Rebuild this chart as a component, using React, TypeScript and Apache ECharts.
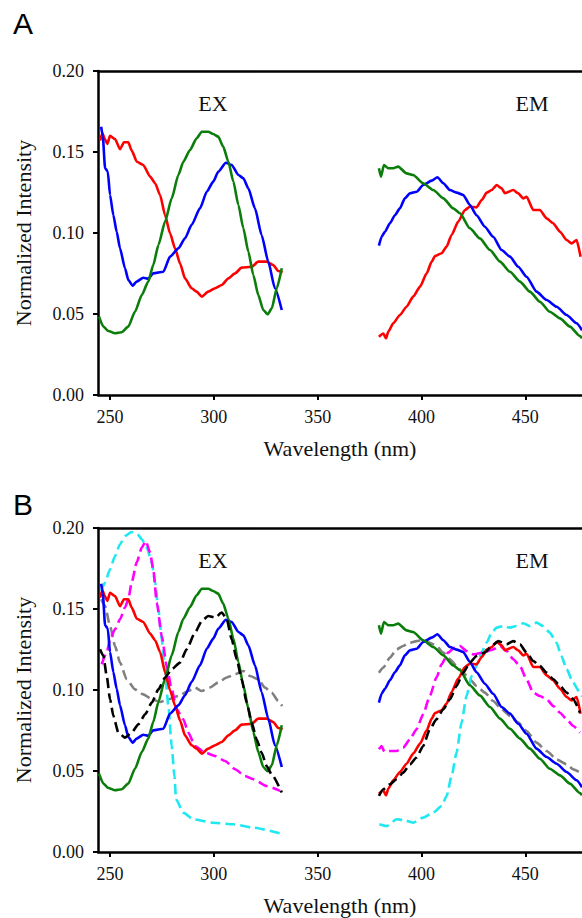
import React, { useEffect, useRef } from "react";
import * as echarts from "echarts";

const xTicks = [250, 300, 350, 400, 450];
const panelLetters = ["A", "B"];
const regionLabels = ["EX", "EM"];

const redEx = [[245.2,0.157],[246.3,0.1615],[247.5,0.158],[248.7,0.155],[250,0.16],[252.4,0.158],[254.8,0.1517],[256.7,0.156],[258.8,0.156],[260.4,0.151],[262.9,0.144],[266,0.142],[269.3,0.1348],[271.7,0.1307],[274.1,0.1235],[276.5,0.111],[278.9,0.0998],[281.3,0.0905],[283.7,0.0813],[286.1,0.072],[289.3,0.0659],[291.7,0.0638],[294.2,0.0607],[297.3,0.0638],[300.6,0.0659],[303.8,0.0679],[307,0.072],[310.2,0.0751],[313.4,0.0786],[318.2,0.0792],[321.4,0.0823],[325.4,0.0823],[328.6,0.0802],[331,0.0765],[333.1,0.0757]];
const blueEx = [[245.7,0.1656],[246.5,0.16],[247.6,0.14],[248.9,0.138],[250,0.1235],[251.6,0.111],[253.2,0.1008],[254.8,0.0905],[257.2,0.0782],[258.8,0.071],[260.9,0.0675],[262.8,0.07],[266,0.0724],[268.4,0.0718],[270.8,0.0751],[275.7,0.0761],[278.9,0.0854],[282.9,0.0905],[286.1,0.0967],[289.3,0.105],[293.3,0.1152],[296.6,0.1255],[299.7,0.1317],[302.1,0.1378],[305.8,0.1434],[308.6,0.142],[311.8,0.1358],[314.2,0.1338],[316.6,0.1276],[319.8,0.1152],[323,0.0988],[326.2,0.0823],[329.4,0.0659],[332.7,0.0525]];
const greenEx = [[244.7,0.0484],[246.8,0.0422],[249.2,0.0395],[252.4,0.0381],[255.6,0.0387],[258.8,0.0422],[262,0.0514],[265.3,0.0617],[268.4,0.07],[270.8,0.0802],[273.3,0.0926],[276.5,0.107],[279.7,0.1214],[282.9,0.1358],[285.3,0.144],[288.5,0.1512],[291.7,0.1585],[294.2,0.1625],[297.3,0.1625],[299.7,0.1611],[302.1,0.1595],[304.5,0.1533],[307,0.144],[309.4,0.1317],[311.8,0.1173],[314.2,0.1029],[316.6,0.0885],[319,0.0741],[321.4,0.0617],[323.8,0.0525],[325.9,0.0498],[327.9,0.0535],[330.3,0.0659],[332.7,0.0782]];
const cyanEx = [[245.7,0.1611],[247.6,0.1663],[250,0.1745],[252.4,0.1827],[254.8,0.19],[257.2,0.1951],[260.4,0.1975],[262.9,0.1967],[265.3,0.193],[267.7,0.1879],[270.1,0.1786],[271.7,0.1663],[273.3,0.1498],[274.9,0.1313],[276.5,0.1107],[278.1,0.0901],[279.7,0.0654],[281,0.0469],[281.8,0.0325],[285.3,0.0243],[290.1,0.0202],[299.7,0.0181],[309.4,0.0171],[319,0.015],[331.9,0.0115]];
const magentaEx = [[246,0.1159],[248.4,0.1231],[250,0.1313],[252.4,0.1375],[254.8,0.1436],[257.2,0.1509],[258.8,0.156],[260.4,0.1663],[262.8,0.1786],[265.3,0.1879],[267.2,0.192],[269.3,0.1848],[270.8,0.1745],[272.5,0.154],[274.9,0.1333],[277.3,0.1148],[279.7,0.1004],[282.1,0.0881],[285.3,0.0819],[287.7,0.0737],[290.9,0.0654],[295.7,0.0614],[300.6,0.0593],[305.4,0.0562],[310.2,0.0511],[315,0.0469],[319,0.0449],[325.4,0.0407],[331.9,0.0377]];
const blackEx = [[245.2,0.1251],[246.8,0.121],[248.4,0.1086],[250,0.0943],[251.6,0.084],[254,0.0737],[257.2,0.0706],[260.4,0.0737],[263.6,0.0788],[266.9,0.085],[270.1,0.0922],[273.3,0.1004],[276.5,0.1077],[279.7,0.1128],[283.7,0.1169],[286.9,0.1251],[290.9,0.1354],[294.2,0.1426],[297.3,0.1457],[300.6,0.1447],[303.8,0.1478],[306.2,0.1436],[308.6,0.1313],[311,0.119],[313.4,0.1066],[315.8,0.0922],[318.2,0.0799],[320.6,0.0696],[323,0.0614],[325.4,0.0531],[327.8,0.048],[332.7,0.0367]];
const greyEx = [[245.7,0.156],[247.6,0.1519],[250,0.1395],[252.4,0.1272],[254.8,0.1169],[258,0.1066],[262,0.1004],[266,0.0973],[270.1,0.0943],[274.1,0.0926],[278.1,0.0943],[282.9,0.0963],[287.7,0.0994],[290.9,0.1015],[294.2,0.0994],[298.1,0.1015],[302.1,0.1046],[306.2,0.1077],[310.2,0.1097],[314.2,0.1117],[317.4,0.1086],[321.4,0.1066],[324.6,0.1015],[327.8,0.0984],[331,0.0932],[332.9,0.0901]];

const redEm = [[379.5,0.036],[381.6,0.038],[382.9,0.035],[384,0.039],[386.4,0.0443],[389.6,0.0494],[392.8,0.0545],[396,0.0607],[399.3,0.0669],[402.5,0.0751],[404.9,0.0823],[406.5,0.0858],[409.7,0.0875],[412.1,0.0916],[414.5,0.0988],[417.7,0.107],[420.9,0.1142],[423.3,0.1162],[426.5,0.1158],[429,0.1204],[431.4,0.1249],[433.8,0.1265],[436.2,0.1296],[438.6,0.1276],[440.2,0.1245],[444.2,0.1265],[446.6,0.1245],[449,0.1214],[450.6,0.1224],[453.8,0.1142],[457,0.1142],[460.3,0.109],[463.4,0.106],[466.7,0.1008],[469.9,0.0957],[472.3,0.0936],[474.7,0.0957],[476.6,0.0854]];
const blueEm = [[379.5,0.0922],[380.8,0.0977],[382.4,0.1008],[384.8,0.106],[387.2,0.111],[389.6,0.1152],[392,0.1214],[394.4,0.1245],[397.7,0.1255],[400.8,0.1296],[404.9,0.1323],[407.7,0.1344],[410.5,0.1307],[413.7,0.1265],[416.9,0.1249],[420.1,0.1235],[423.3,0.1173],[426.5,0.111],[430.5,0.1039],[434.5,0.0977],[438.6,0.0895],[442.6,0.0854],[446.6,0.0792],[450.6,0.073],[455.4,0.0638],[460.3,0.0586],[465.1,0.0545],[469.9,0.0494],[474.7,0.0443],[477.3,0.04]];
const greenEm = [[379.5,0.14],[380.5,0.1348],[381.9,0.142],[384,0.14],[386.4,0.14],[388.8,0.141],[392.8,0.1368],[396,0.1358],[400.8,0.1307],[405.7,0.1265],[410.5,0.1214],[415.3,0.1152],[418.5,0.1122],[423.3,0.1029],[428.1,0.0967],[433,0.0895],[437.8,0.0823],[442.6,0.0761],[447.4,0.07],[452.2,0.0638],[457,0.0576],[461.8,0.0514],[466.7,0.0473],[471.5,0.0422],[476.3,0.0364],[477.3,0.035]];
const cyanEm = [[379.7,0.0171],[383.2,0.016],[388,0.0202],[391.2,0.0198],[396,0.0181],[400.8,0.0212],[405.6,0.0243],[409.7,0.0284],[412.1,0.0346],[414.5,0.0469],[416.9,0.0614],[419.3,0.0799],[421.7,0.0963],[424.1,0.1086],[426.5,0.1148],[428.9,0.1231],[431.4,0.1293],[433.8,0.1354],[436.2,0.1385],[439.4,0.1395],[442.6,0.1385],[445.8,0.1395],[449,0.1412],[452.2,0.1395],[455.4,0.1416],[458.6,0.1395],[461.8,0.1354],[465,0.1293],[467.4,0.121],[469.9,0.1128],[473,0.1046],[476.3,0.0984],[477.3,0.096]];
const magentaEm = [[379.5,0.0634],[380.8,0.0654],[382.1,0.062],[384.8,0.0623],[388,0.0623],[391.2,0.0644],[394.4,0.0696],[397.6,0.0757],[400.8,0.085],[404,0.0963],[407.2,0.1077],[409.7,0.1159],[412.8,0.1231],[416.1,0.1262],[418.5,0.1272],[421.7,0.1241],[424.9,0.122],[429.7,0.1231],[434.5,0.1251],[437.8,0.1272],[441,0.1241],[444.2,0.119],[447.4,0.1148],[450.6,0.1066],[453.8,0.0984],[457,0.0963],[460.3,0.0943],[463.5,0.0901],[466.7,0.086],[469.9,0.0819],[473.1,0.0778],[476.3,0.0737]];
const blackEm = [[379.5,0.0346],[381.6,0.0387],[384.8,0.0418],[388,0.0449],[391.2,0.049],[394.4,0.0541],[397.6,0.0583],[400.8,0.0654],[404,0.0757],[407.2,0.0819],[410.5,0.0881],[413.7,0.0943],[416.9,0.1025],[420.1,0.1107],[423.3,0.1169],[426.5,0.121],[430.5,0.1231],[433.8,0.1272],[437,0.1302],[441,0.1282],[444.2,0.1302],[447.4,0.1282],[450.6,0.1231],[453.8,0.1179],[457,0.1148],[460.3,0.1107],[463.5,0.1066],[466.7,0.1025],[469.9,0.0984],[473.1,0.0943],[476.3,0.086]];
const greyEm = [[379.5,0.1107],[381.6,0.1138],[384.8,0.12],[388,0.1251],[391.2,0.1272],[394.4,0.1292],[397.6,0.1302],[400.8,0.1309],[404,0.1292],[407.2,0.1272],[410.5,0.1231],[413.7,0.119],[416.9,0.1148],[420.1,0.1107],[423.3,0.1066],[426.5,0.1025],[430.5,0.0984],[434.5,0.0932],[438.6,0.0881],[442.6,0.084],[446.6,0.0799],[450.6,0.0747],[455.4,0.0675],[460.3,0.0623],[465.1,0.0572],[469.9,0.0541],[473.1,0.051],[476.3,0.049]];

const SERIF = "Liberation Serif";
const SANS = "Liberation Sans";

const panelTops = [71, 528];
const plotH = 324;
const plotLeft = 98;

type Spec = { name: string; data: number[][]; color: string; dashed: boolean };

const panelASeries: Spec[] = [
  { name: "red-ex", data: redEx, color: "#ff0000", dashed: false },
  { name: "blue-ex", data: blueEx, color: "#0000ff", dashed: false },
  { name: "green-ex", data: greenEx, color: "#0b7d0b", dashed: false },
  { name: "red-em", data: redEm, color: "#ff0000", dashed: false },
  { name: "blue-em", data: blueEm, color: "#0000ff", dashed: false },
  { name: "green-em", data: greenEm, color: "#0b7d0b", dashed: false },
];
const panelBSeries: Spec[] = [
  { name: "grey-ex", data: greyEx, color: "#808080", dashed: true },
  { name: "cyan-ex", data: cyanEx, color: "#1ee8f0", dashed: true },
  { name: "magenta-ex", data: magentaEx, color: "#ff00ff", dashed: true },
  ...panelASeries.slice(0, 3),
  { name: "black-ex", data: blackEx, color: "#000000", dashed: true },
  { name: "grey-em", data: greyEm, color: "#808080", dashed: true },
  { name: "cyan-em", data: cyanEm, color: "#1ee8f0", dashed: true },
  { name: "magenta-em", data: magentaEm, color: "#ff00ff", dashed: true },
  ...panelASeries.slice(3),
  { name: "black-em", data: blackEm, color: "#000000", dashed: true },
];

export default function App() {
  const ref = useRef<HTMLDivElement>(null);
  useEffect(() => {
    if (!ref.current) return;
    const chart = echarts.init(ref.current, undefined, { renderer: "svg" });
    const grids = panelTops.map((t) => ({ left: plotLeft, top: t, right: 0, height: plotH }));
    const xAxes: any[] = [];
    const yAxes: any[] = [];
    panelTops.forEach((_, i) => {
      xAxes.push({
        type: "value",
        gridIndex: i,
        position: "bottom",
        min: 244.2,
        max: 477.3,
        name: "Wavelength (nm)",
        nameLocation: "middle",
        nameGap: 42,
        nameTextStyle: { fontFamily: SERIF, fontSize: 22, color: "#111" },
        axisLine: { show: true, onZero: false, lineStyle: { color: "#000", width: 2.5 } },
        axisTick: { show: true, inside: false, length: 5, lineStyle: { color: "#000", width: 2 }, customValues: xTicks },
        axisLabel: { show: true, margin: 13, fontFamily: SERIF, fontSize: 18, color: "#111", customValues: xTicks },
        splitLine: { show: false },
      });
      xAxes.push({
        type: "value",
        gridIndex: i,
        position: "top",
        min: 244.2,
        max: 477.3,
        axisLine: { show: true, onZero: false, lineStyle: { color: "#000", width: 2.5 } },
        axisTick: { show: false },
        axisLabel: { show: false },
        splitLine: { show: false },
      });
      yAxes.push({
        type: "value",
        gridIndex: i,
        min: 0,
        max: 0.2,
        interval: 0.05,
        name: "Normalized Intensity",
        nameLocation: "middle",
        nameGap: 64,
        nameTextStyle: { fontFamily: SERIF, fontSize: 22, color: "#111" },
        axisLine: { show: true, onZero: false, lineStyle: { color: "#000", width: 2.5 } },
        axisTick: { show: true, inside: false, length: 5, lineStyle: { color: "#000", width: 2 } },
        axisLabel: { show: true, margin: 14, fontFamily: SERIF, fontSize: 18, color: "#111", formatter: (v: number) => v.toFixed(2) },
        splitLine: { show: false },
      });
    });
    const mk = (s: Spec, panel: number) => ({
      type: "line",
      name: s.name,
      xAxisIndex: panel * 2,
      yAxisIndex: panel,
      data: s.data,
      showSymbol: false,
      symbol: "none",
      smooth: 0.2,
      smoothMonotone: "x",
      lineStyle: { color: s.color, width: 2.6, type: s.dashed ? [10, 5] : "solid" },
      silent: true,
    });
    const series = [
      ...panelASeries.map((s) => mk(s, 0)),
      ...panelBSeries.map((s) => mk(s, 1)),
    ];
    const graphic: any[] = [];
    panelLetters.forEach((L, i) => {
      graphic.push({
        type: "text",
        left: 13,
        top: i === 0 ? 8 : 489,
        style: { text: L, fontFamily: SANS, fontSize: 30, fill: "#000" },
      });
      const cy = panelTops[i] + 32;
      const xs = [213, 532];
      regionLabels.forEach((t, j) => {
        graphic.push({
          type: "text",
          x: xs[j],
          y: cy,
          style: { text: t, fontFamily: SERIF, fontSize: 22, fill: "#111", align: "center", verticalAlign: "middle" },
        });
      });
    });
    chart.setOption({
      animation: false,
      backgroundColor: "#fff",
      grid: grids,
      xAxis: xAxes,
      yAxis: yAxes,
      series,
      graphic,
    });
    return () => chart.dispose();
  }, []);
  return (
    <div
      ref={ref}
      style={{ position: "fixed", left: 0, top: 0, width: 582, height: 918 }}
    />
  );
}
